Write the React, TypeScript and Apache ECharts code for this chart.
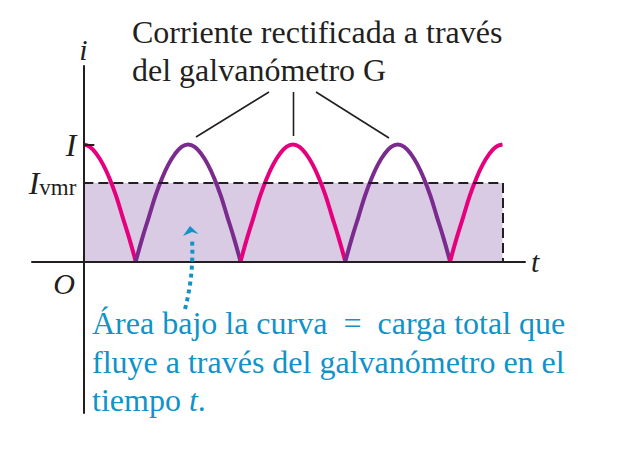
import React, { useEffect, useRef } from "react";
import * as echarts from "echarts";

// ---- data ----
// one half of a rectified hump: offset from its peak (in periods) and current (fraction of I)
const HALF_HUMP_OFFSET = [0, 0.0625, 0.125, 0.1875, 0.25, 0.3125, 0.375, 0.4375, 0.5];
const HALF_HUMP_VALUE = [1, 0.98, 0.92, 0.83, 0.71, 0.56, 0.38, 0.2, 0];
// coloured segments of the curve
const SEG_START = [0, 0.5, 1.5, 2.5, 3.5];
const SEG_END = [0.5, 1.5, 2.5, 3.5, 4];
const SEG_PEAK = [0, 1, 2, 3, 4];
const I_PEAK = 1;
const I_VMR = 0.67;
const T_END = 4;
const T_MIN = -0.49;
const T_MAX = 4.215;

const MAGENTA = "#e5007e";
const PURPLE = "#7b2a8e";
const SEG_COLOR = [MAGENTA, PURPLE, MAGENTA, PURPLE, MAGENTA];
const FILL = "#d9cbe3";
const INK = "#231f20";
const BLUE = "#0f93c9";
const FONT = "'Liberation Serif', 'Times New Roman', serif";

function segmentPoints(i: number): number[][] {
  const pts: number[][] = [];
  const p = SEG_PEAK[i];
  for (let k = HALF_HUMP_OFFSET.length - 1; k >= 0; k--) {
    const x = p - HALF_HUMP_OFFSET[k];
    if (x >= SEG_START[i] - 1e-9) pts.push([x, HALF_HUMP_VALUE[k] * I_PEAK]);
  }
  for (let k = 1; k < HALF_HUMP_OFFSET.length; k++) {
    const x = p + HALF_HUMP_OFFSET[k];
    if (x <= SEG_END[i] + 1e-9) pts.push([x, HALF_HUMP_VALUE[k] * I_PEAK]);
  }
  return pts;
}

export default function App() {
  const ref = useRef<HTMLDivElement>(null);
  useEffect(() => {
    if (!ref.current) return;
    document.body.style.margin = "0";
    const chart = echarts.init(ref.current, null, { renderer: "svg" });
    const GRID_LEFT = 32;
    const GRID_W = 618 - 32 - 93;
    // place the y axis at t = 0 (so its labels follow it)
    const yOffset = -((0 - T_MIN) / (T_MAX - T_MIN)) * GRID_W;
    const curveSeries = SEG_START.map((_, i) => ({
      type: "line",
      data: segmentPoints(i),
      showSymbol: false,
      smooth: 0.4,
      z: 4,
      lineStyle: { color: SEG_COLOR[i], width: 4 },
      silent: true,
    }));
    const areaSeries = {
      type: "line",
      data: [],
      silent: true,
      markArea: {
        silent: true,
        itemStyle: { color: FILL, borderWidth: 0 },
        data: [[{ coord: [0, 0] }, { coord: [T_END, I_VMR] }]],
      },
      markLine: {
        silent: true,
        symbol: "none",
        label: { show: false },
        lineStyle: { color: INK, width: 2, type: [10, 5] },
        data: [
          [{ coord: [0, I_VMR] }, { coord: [T_END, I_VMR] }],
          [{ coord: [T_END, I_VMR] }, { coord: [T_END, 0] }],
        ],
      },
    };
    const G = { z: 100 };
    chart.setOption({
      animation: false,
      grid: {
        left: GRID_LEFT,
        right: 93,
        top: 66,
        bottom: 52,
        containLabel: false,
        outerBoundsMode: "none",
      },
      xAxis: {
        type: "value",
        min: T_MIN,
        max: T_MAX,
        z: 6,
        splitLine: { show: false },
        axisTick: { show: false },
        axisLabel: { show: false },
        axisLine: { onZero: true, lineStyle: { color: INK, width: 2 } },
        name: "t",
        nameLocation: "end",
        nameGap: 6,
        nameTextStyle: {
          fontFamily: FONT,
          fontStyle: "italic",
          fontSize: 30,
          color: INK,
          padding: [0, 0, 12, 0],
        },
      },
      yAxis: {
        type: "value",
        min: -1.295,
        max: 1.671,
        z: 6,
        position: "left",
        offset: yOffset,
        splitLine: { show: false },
        axisLine: { onZero: false, lineStyle: { color: INK, width: 2 } },
        axisTick: {
          show: true,
          inside: true,
          length: 11,
          customValues: [I_PEAK],
          lineStyle: { color: INK, width: 2 },
        },
        axisLabel: {
          show: true,
          customValues: [I_VMR, I_PEAK],
          margin: 7,
          formatter: (v: number) =>
            Math.abs(v - I_PEAK) < 1e-6 ? "{it|I}" : "{it|I}{sub|vmr}",
          rich: {
            it: {
              fontFamily: FONT,
              fontStyle: "italic",
              fontSize: 32,
              lineHeight: 32,
              color: INK,
            },
            sub: {
              fontFamily: FONT,
              fontSize: 23,
              lineHeight: 23,
              verticalAlign: "bottom",
              color: INK,
            },
          },
        },
        name: "i",
        nameLocation: "end",
        nameGap: 2,
        nameTextStyle: {
          fontFamily: FONT,
          fontStyle: "italic",
          fontSize: 30,
          color: INK,
        },
      },
      series: [areaSeries, ...curveSeries],
      graphic: [
        {
          ...G,
          type: "text",
          x: 64,
          y: 283,
          style: {
            text: "O",
            fontFamily: FONT,
            fontStyle: "italic",
            fontSize: 30,
            fill: INK,
            align: "center",
            verticalAlign: "middle",
          },
        },
        {
          ...G,
          type: "text",
          x: 132,
          y: 13,
          style: {
            text: "Corriente rectificada a través\ndel galvanómetro G",
            fontFamily: FONT,
            fontSize: 32,
            lineHeight: 38,
            fill: INK,
            align: "left",
            verticalAlign: "top",
          },
        },
        {
          ...G,
          type: "line",
          shape: { x1: 269, y1: 92, x2: 196, y2: 137 },
          style: { stroke: INK, lineWidth: 1.6 },
        },
        {
          ...G,
          type: "line",
          shape: { x1: 293.5, y1: 92, x2: 293.5, y2: 136 },
          style: { stroke: INK, lineWidth: 1.6 },
        },
        {
          ...G,
          type: "line",
          shape: { x1: 316, y1: 92, x2: 389, y2: 138 },
          style: { stroke: INK, lineWidth: 1.6 },
        },
        {
          ...G,
          type: "text",
          x: 92,
          y: 304,
          style: {
            text:
              "Área bajo la curva\u2002=\u2002carga total que\nfluye a través del galvanómetro en el\n{n|tiempo }{it|t}{n|.}",
            fontFamily: FONT,
            fontSize: 32,
            lineHeight: 38.5,
            fill: BLUE,
            align: "left",
            verticalAlign: "top",
            rich: {
              n: { fontFamily: FONT, fontSize: 32, fill: BLUE, lineHeight: 38.5 },
              it: {
                fontFamily: FONT,
                fontSize: 32,
                fontStyle: "italic",
                fill: BLUE,
                lineHeight: 38.5,
              },
            },
          },
        },
        {
          ...G,
          type: "bezierCurve",
          shape: { x1: 185, y1: 309, cpx1: 194, cpy1: 275, x2: 192, y2: 238 },
          style: { stroke: BLUE, lineWidth: 4, lineDash: [4, 4], fill: null },
        },
        {
          ...G,
          type: "polygon",
          shape: {
            points: [
              [190, 226],
              [198.5, 234],
              [192, 232],
              [183, 236],
            ],
          },
          style: { fill: BLUE },
        },
      ],
    });
    return () => chart.dispose();
  }, []);
  return <div ref={ref} style={{ width: 618, height: 465 }} />;
}
